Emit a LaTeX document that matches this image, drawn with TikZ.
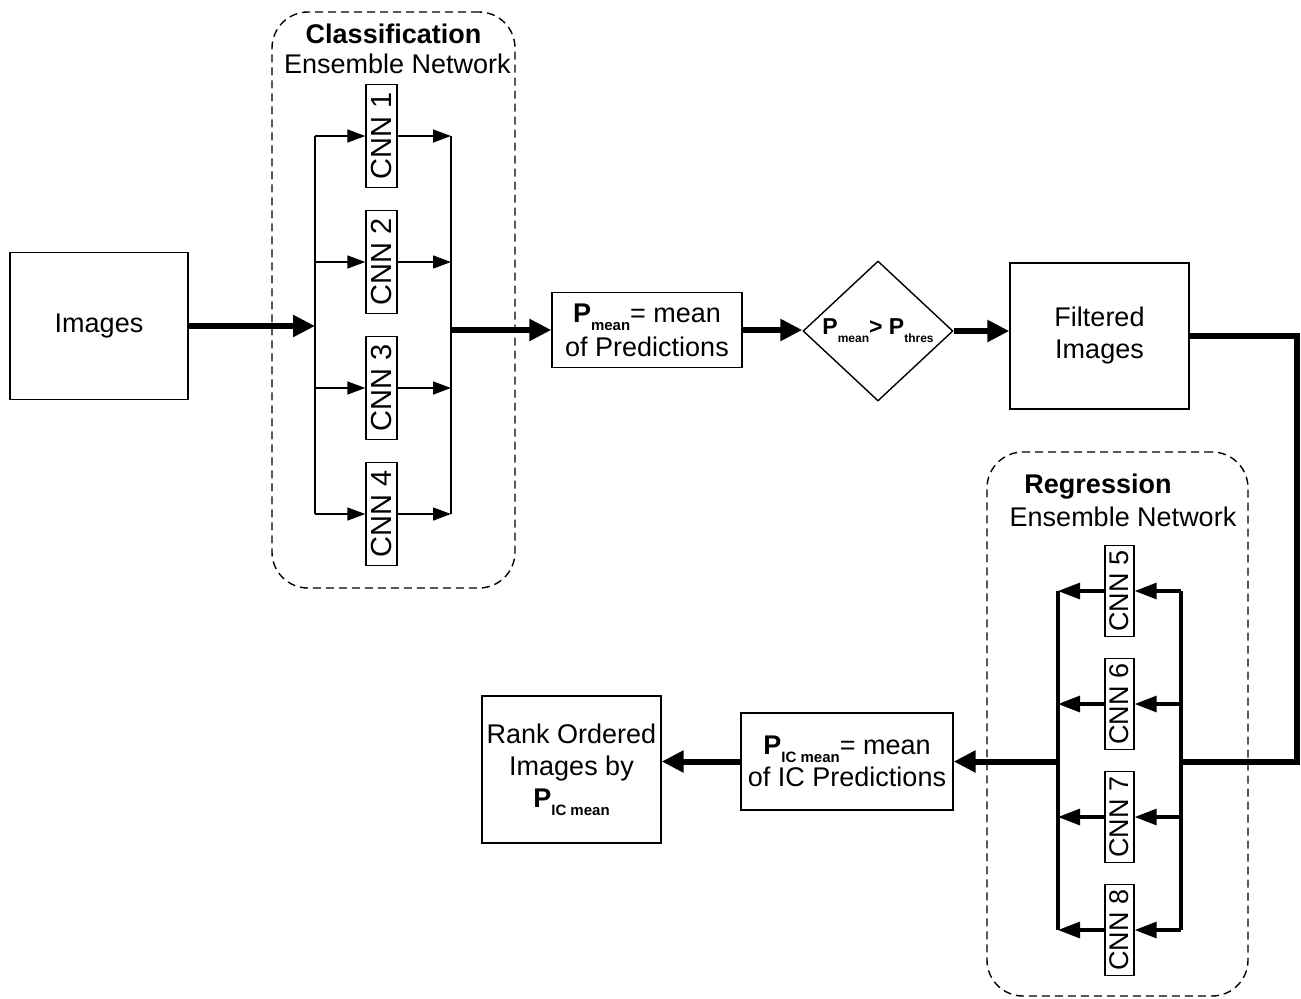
\documentclass[tikz,border=0pt]{standalone}
\usepackage{fontspec}
\setmainfont{Liberation Sans}
\usepackage{graphicx}
\usepackage{tikz}
\usetikzlibrary{arrows.meta, positioning, shapes.geometric}

% bold P with a lowered subscript
\newcommand{\psub}[2][7.5]{\textbf{P}\raisebox{-4pt}{\fontsize{#1}{#1}\selectfont\textbf{#2}}}

\begin{document}
\begin{tikzpicture}[on grid,font=\fontsize{13.5}{16}\selectfont]
    \tikzstyle{box}=[draw,line width=0.7pt,inner sep=0pt,align=center]
    \tikzstyle{cnn}=[draw,line width=0.7pt,inner sep=0pt,minimum width=15.5pt,minimum height=51.5pt,font=\fontsize{14.5}{16}\selectfont]
    \tikzstyle{rcnn}=[cnn,minimum width=14.5pt,minimum height=45.5pt,font=\fontsize{13.5}{16}\selectfont]
    \tikzstyle{ensemble}=[draw,dash pattern=on 4pt off 2.5pt,line width=0.7pt,rounded corners=18pt]
    \tikzstyle{link}=[-{Triangle[length=9pt,width=6.5pt]},line width=0.75pt]
    \tikzstyle{rlink}=[-{Triangle[length=11pt,width=8pt]},line width=1.6pt]
    \tikzstyle{flow}=[-{Triangle[length=11pt,width=10.5pt]},line width=3pt]

    \useasboundingbox (0,0) rectangle (650.5pt,-499pt);

    % classification part
    \node[box,minimum width=89pt,minimum height=73.5pt] (images) at (49.5pt,-163pt) {Images};
    \node[cnn,above right=95pt and 141.25pt of images] (cnn1) {\rotatebox{90}{CNN 1}};
    \node[cnn,below=63pt of cnn1] (cnn2) {\rotatebox{90}{CNN 2}};
    \node[cnn,below=63pt of cnn2] (cnn3) {\rotatebox{90}{CNN 3}};
    \node[cnn,below=63pt of cnn3] (cnn4) {\rotatebox{90}{CNN 4}};
    \node[ensemble,minimum width=121.5pt,minimum height=288pt,below right=82pt and 6pt of cnn1] (cls) {};
    \node[above=133pt of cls] (clshead) {\bfseries Classification};
    \node[below right=15pt and 2pt of clshead] (clssub) {Ensemble Network};

    \coordinate[left=33.25pt of cnn1] (cin1);
    \coordinate[left=33.25pt of cnn2] (cin2);
    \coordinate[left=33.25pt of cnn3] (cin3);
    \coordinate[left=33.25pt of cnn4] (cin4);
    \coordinate[right=34.75pt of cnn1] (cout1);
    \coordinate[right=34.75pt of cnn2] (cout2);
    \coordinate[right=34.75pt of cnn3] (cout3);
    \coordinate[right=34.75pt of cnn4] (cout4);

    % main row
    \node[box,minimum width=95pt,minimum height=37.5pt,below right=2pt and 274pt of images] (pmean) {\psub{mean}= mean\\[1pt]of Predictions};
    \node[draw,diamond,line width=0.7pt,inner sep=0pt,aspect=1.07,minimum width=75pt,minimum height=70pt,below right=0.5pt and 115.5pt of pmean] (thres) {\fontsize{11.5}{13}\selectfont\psub[6]{mean}\textbf{>} \psub[6]{thres}};
    \node[box,minimum width=89.5pt,minimum height=73pt,below right=2.5pt and 110.75pt of thres] (filtered) {Filtered\\Images};

    % regression part
    \node[rcnn,below right=127.5pt and 10pt of filtered] (cnn5) {\rotatebox{90}{CNN 5}};
    \node[rcnn,below=56.5pt of cnn5] (cnn6) {\rotatebox{90}{CNN 6}};
    \node[rcnn,below=56.5pt of cnn6] (cnn7) {\rotatebox{90}{CNN 7}};
    \node[rcnn,below=56.5pt of cnn7] (cnn8) {\rotatebox{90}{CNN 8}};
    \node[ensemble,minimum width=130.5pt,minimum height=272pt,below left=66.5pt and 1pt of cnn5] (reg) {};
    \node[above left=118.5pt and 9.75pt of reg] (reghead) {\bfseries Regression};
    \node[below right=15pt and 12.5pt of reghead] (regsub) {Ensemble Network};

    \coordinate[right=30.75pt of cnn5] (rin5);
    \coordinate[right=30.75pt of cnn6] (rin6);
    \coordinate[right=30.75pt of cnn7] (rin7);
    \coordinate[right=30.75pt of cnn8] (rin8);
    \coordinate[left=30.75pt of cnn5] (rout5);
    \coordinate[left=30.75pt of cnn6] (rout6);
    \coordinate[left=30.75pt of cnn7] (rout7);
    \coordinate[left=30.75pt of cnn8] (rout8);

    \node[box,minimum width=106pt,minimum height=48.5pt,below left=28.75pt and 136.25pt of cnn6] (picmean) {\psub{IC mean}= mean\\of IC Predictions};
    \node[box,minimum width=89.5pt,minimum height=73.5pt,below left=4pt and 137.75pt of picmean] (rank) {Rank Ordered\\Images by\\\psub{IC mean}};

    % buses
    \draw[line width=0.75pt] (cin1) -- (cin4);
    \draw[line width=0.75pt] (cout1) -- (cout4);
    \draw[line width=1.6pt] (rin5) -- (rin8);
    \draw[line width=1.6pt] (rout5) -- (rout8);

    \path[link]
    (cin1) edge (cnn1)
    (cin2) edge (cnn2)
    (cin3) edge (cnn3)
    (cin4) edge (cnn4)
    (cnn1) edge (cout1)
    (cnn2) edge (cout2)
    (cnn3) edge (cout3)
    (cnn4) edge (cout4)
    ;

    \path[rlink]
    (rin5) edge (cnn5)
    (rin6) edge (cnn6)
    (rin7) edge (cnn7)
    (rin8) edge (cnn8)
    (cnn5) edge (rout5)
    (cnn6) edge (rout6)
    (cnn7) edge (rout7)
    (cnn8) edge (rout8)
    ;

    \path[flow]
    (images) edge (images -| cin1)
    (pmean -| cout1) edge (pmean)
    (pmean) edge (pmean -| thres.west)
    (thres) edge (thres -| filtered.west)
    (rout6 |- picmean) edge (picmean)
    (picmean) edge (picmean -| rank.east)
    ;

    \draw[line width=3pt] (filtered) -- ++(98.75pt,0) |- (rin6 |- picmean);

  \end{tikzpicture}
\end{document}
